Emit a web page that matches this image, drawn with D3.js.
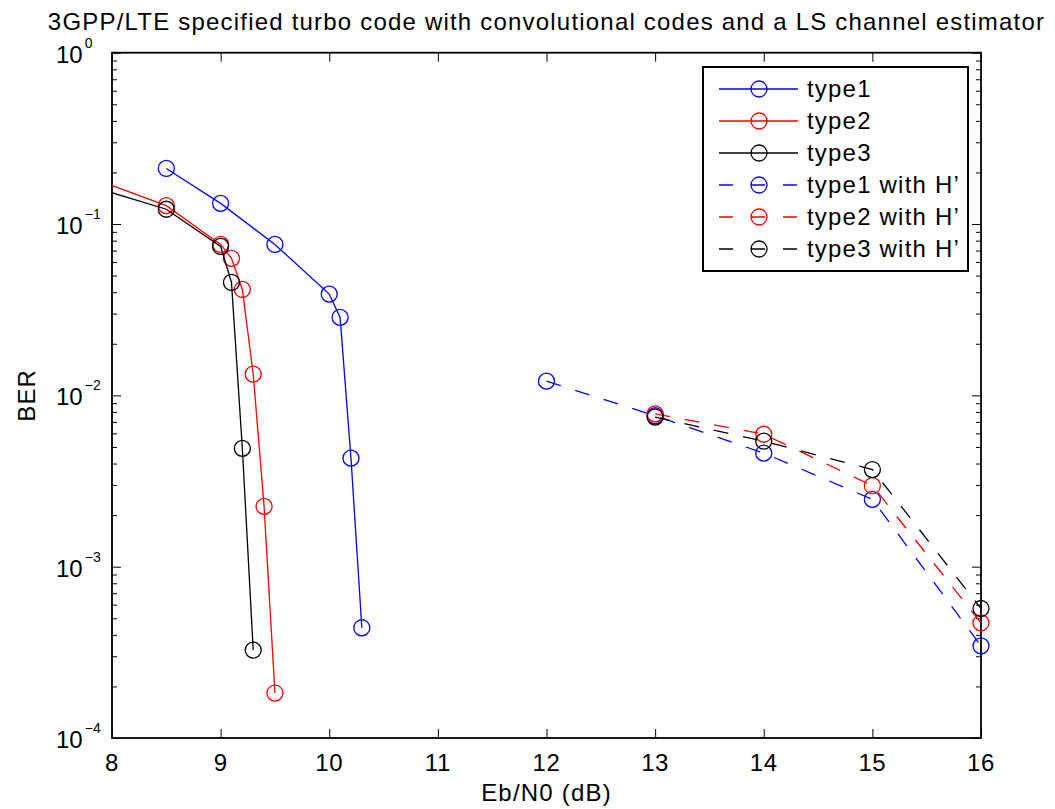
<!DOCTYPE html>
<html>
<head>
<meta charset="utf-8">
<script src="https://cdn.jsdelivr.net/npm/d3@7"></script>
<style>
  body { margin: 0; background: #fff; }
  text { font-family: Helvetica, "Liberation Sans", Arial, sans-serif; fill: #000; }
  .wide { letter-spacing: 1.2px; }
</style>
</head>
<body>
<div id="chart"></div>
<script>
// values
const xTicks = [8, 9, 10, 11, 12, 13, 14, 15, 16];
const yExponents = [0, -1, -2, -3, -4];

const ebn0Type1 = [8.5, 9, 9.5, 10, 10.1, 10.2, 10.3];
const berType1 = [0.211, 0.132, 0.076, 0.039, 0.0285, 0.0043, 0.00044];

const ebn0Type2 = [7.5, 8.5, 9, 9.1, 9.2, 9.3, 9.4, 9.5];
const berType2 = [0.22, 0.128, 0.076, 0.063, 0.0415, 0.0133, 0.00225, 0.000183];

const ebn0Type3 = [7.5, 8.5, 9, 9.1, 9.2, 9.3];
const berType3 = [0.19, 0.122, 0.074, 0.0456, 0.0049, 0.000326];

const ebn0Type1H = [12, 13, 14, 15, 16];
const berType1H = [0.0121, 0.0076, 0.0046, 0.00247, 0.000345];

const ebn0Type2H = [13, 14, 15, 16];
const berType2H = [0.0078, 0.00593, 0.00297, 0.00047];

const ebn0Type3H = [13, 14, 15, 16];
const berType3H = [0.00747, 0.0054, 0.00369, 0.00057];

const seriesNames = ["type1", "type2", "type3", "type1 with H\u2019", "type2 with H\u2019", "type3 with H\u2019"];
const seriesColors = ["#0000ff", "#ff0000", "#000000", "#0000ff", "#ff0000", "#000000"];
const seriesDashed = [false, false, false, true, true, true];

const series = [
  [ebn0Type1, berType1], [ebn0Type2, berType2], [ebn0Type3, berType3],
  [ebn0Type1H, berType1H], [ebn0Type2H, berType2H], [ebn0Type3H, berType3H]
].map(([xs, ys], i) => ({
  name: seriesNames[i],
  color: seriesColors[i],
  dashed: seriesDashed[i],
  points: xs.map((x, j) => ({ x: x, y: ys[j] }))
}));

const width = 1055, height = 809;
const plotLeft = 112, plotRight = 981, plotTop = 52.7, plotBottom = 738;
const dash = "15,15";

const x = d3.scaleLinear().domain([8, 16]).range([plotLeft, plotRight]);
const y = d3.scaleLog().domain([1e-4, 1]).range([plotBottom, plotTop]);

const svg = d3.select("#chart").append("svg")
  .attr("width", width)
  .attr("height", height);

svg.append("defs").append("clipPath").attr("id", "plot-clip")
  .append("rect")
  .attr("x", plotLeft).attr("y", plotTop)
  .attr("width", plotRight - plotLeft).attr("height", plotBottom - plotTop);

// ticks, inward on all four sides
const minorTicks = y.ticks().filter(v => Math.abs(Math.log10(v) - Math.round(Math.log10(v))) > 1e-6);
const majorTicks = yExponents.map(e => Math.pow(10, e));

const tickStyle = g => {
  g.select(".domain").remove();
  g.selectAll("line").attr("stroke", "#000").attr("stroke-width", 1);
};

svg.append("g").attr("transform", `translate(0,${plotBottom})`)
  .call(d3.axisBottom(x).tickValues(xTicks).tickSize(-9).tickSizeOuter(0).tickFormat(""))
  .call(tickStyle);
svg.append("g").attr("transform", `translate(0,${plotTop})`)
  .call(d3.axisTop(x).tickValues(xTicks).tickSize(-9).tickSizeOuter(0).tickFormat(""))
  .call(tickStyle);
svg.append("g").attr("transform", `translate(${plotLeft},0)`)
  .call(d3.axisLeft(y).tickValues(majorTicks).tickSize(-9).tickSizeOuter(0).tickFormat(""))
  .call(tickStyle);
svg.append("g").attr("transform", `translate(${plotLeft},0)`)
  .call(d3.axisLeft(y).tickValues(minorTicks).tickSize(-5).tickSizeOuter(0).tickFormat(""))
  .call(tickStyle);
svg.append("g").attr("transform", `translate(${plotRight},0)`)
  .call(d3.axisRight(y).tickValues(majorTicks).tickSize(-9).tickSizeOuter(0).tickFormat(""))
  .call(tickStyle);
svg.append("g").attr("transform", `translate(${plotRight},0)`)
  .call(d3.axisRight(y).tickValues(minorTicks).tickSize(-5).tickSizeOuter(0).tickFormat(""))
  .call(tickStyle);

// axes box
svg.append("rect")
  .attr("x", plotLeft).attr("y", plotTop)
  .attr("width", plotRight - plotLeft).attr("height", plotBottom - plotTop)
  .attr("fill", "none")
  .attr("stroke", "#000")
  .attr("stroke-width", 1.8);

// tick labels
svg.append("g")
  .attr("font-size", 24)
  .attr("text-anchor", "middle")
  .attr("letter-spacing", 0.6)
  .selectAll("text")
  .data(xTicks)
  .join("text")
  .attr("x", d => x(d))
  .attr("y", plotBottom + 33)
  .text(d => d);

const yLab = svg.append("g")
  .selectAll("text")
  .data(yExponents)
  .join("text")
  .attr("x", 56)
  .attr("y", d => y(Math.pow(10, d)) + 10);
yLab.append("tspan").attr("font-size", 24).text("10");
yLab.append("tspan")
  .attr("font-size", 14)
  .attr("dx", 2)
  .attr("dy", -15)
  .text(d => d === 0 ? "0" : "\u2212" + Math.abs(d));

// titles
svg.append("text")
  .attr("class", "wide")
  .attr("x", (plotLeft + plotRight) / 2)
  .attr("y", 29.5)
  .attr("text-anchor", "middle")
  .attr("font-size", 24)
  .text("3GPP/LTE specified turbo code with convolutional codes and a LS channel estimator");

svg.append("text")
  .attr("class", "wide")
  .attr("x", (plotLeft + plotRight) / 2)
  .attr("y", 801)
  .attr("text-anchor", "middle")
  .attr("font-size", 24)
  .text("Eb/N0 (dB)");

svg.append("text")
  .attr("class", "wide")
  .attr("transform", `translate(35,${(plotTop + plotBottom) / 2}) rotate(-90)`)
  .attr("text-anchor", "middle")
  .attr("font-size", 24)
  .text("BER");

// series
const line = d3.line().x(d => x(d.x)).y(d => y(d.y));

series.forEach(s => {
  const g = svg.append("g");
  g.append("path")
    .datum(s.points)
    .attr("clip-path", "url(#plot-clip)")
    .attr("fill", "none")
    .attr("stroke", s.color)
    .attr("stroke-width", 1.3)
    .attr("stroke-dasharray", s.dashed ? dash : null)
    .attr("d", line);
  g.selectAll("circle")
    .data(s.points.filter(d => d.x >= 8))
    .join("circle")
    .attr("cx", d => x(d.x))
    .attr("cy", d => y(d.y))
    .attr("r", 8)
    .attr("fill", "none")
    .attr("stroke", s.color)
    .attr("stroke-width", 1.3);
});

// legend
const legend = svg.append("g");
legend.append("rect")
  .attr("x", 703).attr("y", 67)
  .attr("width", 265).attr("height", 204)
  .attr("fill", "#fff")
  .attr("stroke", "#000")
  .attr("stroke-width", 2);

const rows = legend.selectAll("g.row")
  .data(series)
  .join("g")
  .attr("class", "row")
  .attr("transform", (d, i) => `translate(0,${89 + i * 32})`);

rows.append("line")
  .attr("x1", 719).attr("x2", 798)
  .attr("stroke", d => d.color)
  .attr("stroke-width", 1.3)
  .attr("stroke-dasharray", d => d.dashed ? "14,18" : null);
rows.append("circle")
  .attr("cx", 759)
  .attr("r", 8)
  .attr("fill", "none")
  .attr("stroke", d => d.color)
  .attr("stroke-width", 1.3);
rows.append("text")
  .attr("class", "wide")
  .attr("x", 807)
  .attr("y", 8)
  .attr("font-size", 24)
  .text(d => d.name);
</script>
</body>
</html>
